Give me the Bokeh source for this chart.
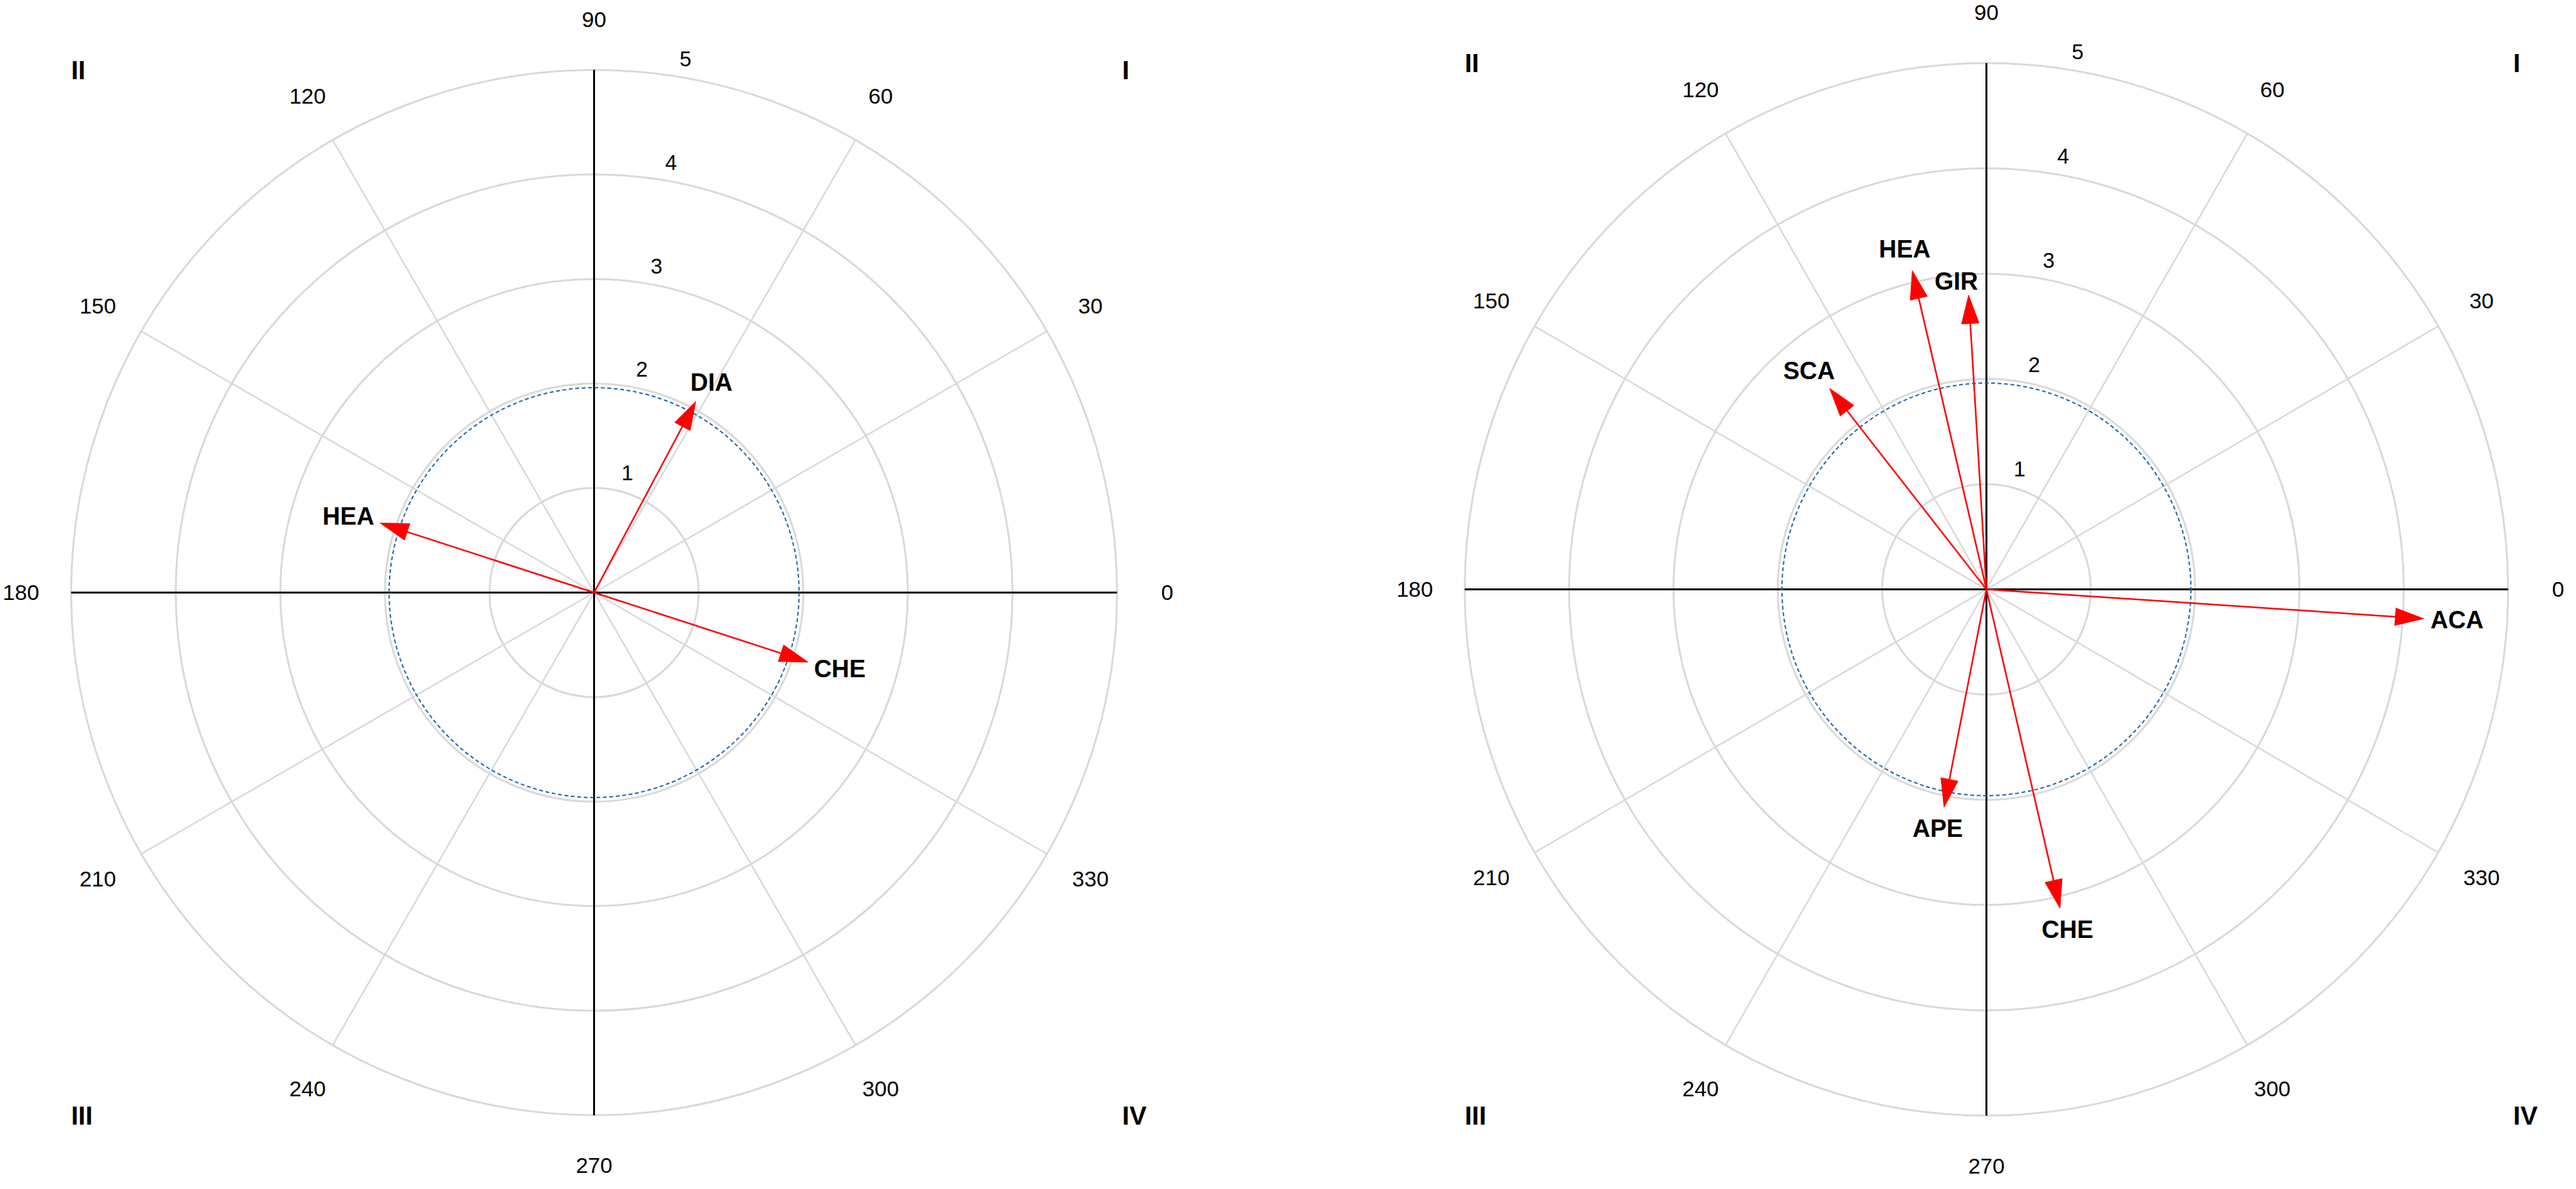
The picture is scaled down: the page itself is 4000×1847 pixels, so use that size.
import math
from bokeh.plotting import figure
from bokeh.models import Range1d, ColumnDataSource
from bokeh.layouts import row
from bokeh.core.properties import value
from bokeh.embed import file_html
from bokeh.resources import INLINE

# ---------------- data ----------------
left_names = ["DIA", "HEA", "CHE"]
left_magnitude = [2.07, 2.15, 2.15]
left_angle_deg = [62.0, 162.0, 342.0]

right_names = ["ACA", "GIR", "HEA", "SCA", "APE", "CHE"]
right_magnitude = [4.20, 2.80, 3.11, 2.43, 2.11, 3.11]
right_angle_deg = [356.2, 93.5, 103.2, 128.2, 258.9, 283.1]

angle_ticks = [0, 30, 60, 90, 120, 150, 180, 210, 240, 270, 300, 330]
radial_ticks = [1, 2, 3, 4, 5]
quadrant_names = ["I", "II", "III", "IV"]
significance_radius = 1.96

# ---------------- style ----------------
FONT = value("Liberation Sans")
GRID_COLOR = "#d9d9d9"
ARROW_COLOR = "#ff0000"
DASH_COLOR = "#1f63a8"
HEAD_LEN = 44.0   # px
HEAD_W = 27.0     # px
LABEL_GAP = 34.0  # px
LABEL_HSHIFT = 18.0
ANGLE_LABEL_R = 5.48
label_nudge_px = {"right": {"GIR": (-16.0, 12.0)}}


def make_panel(key, names, mags, angs, width, height, cx_px, cy_px, ux, uy):
    p = figure(width=width, height=height,
               x_range=Range1d(-cx_px / ux, (width - cx_px) / ux),
               y_range=Range1d(-(height - cy_px) / uy, cy_px / uy),
               output_backend="svg", toolbar_location=None,
               x_axis_location=None, y_axis_location=None,
               min_border=0, min_border_left=0, min_border_right=0,
               min_border_top=0, min_border_bottom=0)
    p.grid.visible = False
    p.outline_line_color = None
    p.background_fill_color = "white"
    p.border_fill_color = "white"

    rmax = max(radial_ticks)
    # rings
    p.ellipse(x=[0] * len(radial_ticks), y=[0] * len(radial_ticks),
              width=[2 * r for r in radial_ticks], height=[2 * r for r in radial_ticks],
              fill_alpha=0, line_color=GRID_COLOR, line_width=3)
    # spokes
    spokes = [a for a in angle_ticks if a % 90 != 0]
    p.segment(x0=[0] * len(spokes), y0=[0] * len(spokes),
              x1=[rmax * math.cos(math.radians(a)) for a in spokes],
              y1=[rmax * math.sin(math.radians(a)) for a in spokes],
              line_color=GRID_COLOR, line_width=2.5)
    # black axes
    p.segment(x0=[-rmax, 0], y0=[0, -rmax], x1=[rmax, 0], y1=[0, rmax],
              line_color="#000000", line_width=3)
    # significance circle
    p.ellipse(x=[0], y=[0], width=[2 * significance_radius], height=[2 * significance_radius],
              fill_alpha=0, line_color=DASH_COLOR, line_width=2, line_dash="6 4")

    # arrows
    bx, by = [], []
    head_xs, head_ys = [], []
    lx, ly, xo, yo = [], [], [], []
    nudges = label_nudge_px.get(key, {})
    for n, m, a in zip(names, mags, angs):
        t = math.radians(a)
        xt, yt = m * math.cos(t), m * math.sin(t)
        sx, sy = xt * ux, yt * uy
        norm = math.hypot(sx, sy)
        dx, dy = sx / norm, sy / norm  # screen direction, y up
        px, py = -dy, dx
        base_x = xt - HEAD_LEN * dx / ux
        base_y = yt - HEAD_LEN * dy / uy
        c1x = base_x + (HEAD_W / 2) * px / ux
        c1y = base_y + (HEAD_W / 2) * py / uy
        c2x = base_x - (HEAD_W / 2) * px / ux
        c2y = base_y - (HEAD_W / 2) * py / uy
        head_xs.append([xt, c1x, c2x])
        head_ys.append([yt, c1y, c2y])
        bx.append(base_x + 2 * dx / ux)
        by.append(base_y + 2 * dy / uy)
        nx, ny = nudges.get(n, (0.0, 0.0))
        lx.append(xt)
        ly.append(yt)
        xo.append(LABEL_GAP * dx + LABEL_HSHIFT * dx + nx)
        yo.append(-LABEL_GAP * dy + ny)
    p.segment(x0=[0] * len(names), y0=[0] * len(names), x1=bx, y1=by,
              line_color=ARROW_COLOR, line_width=2.5)
    p.patches(xs=head_xs, ys=head_ys, fill_color=ARROW_COLOR, line_color=ARROW_COLOR, line_width=1)

    src = ColumnDataSource(dict(x=lx, y=ly, text=names, xo=xo, yo=yo))
    p.text(x="x", y="y", text="text", x_offset="xo", y_offset="yo", source=src,
           text_font=FONT, text_font_style="bold", text_font_size="38px",
           text_align="center", text_baseline="middle", text_color="black")

    # angle labels
    p.text(x=[ANGLE_LABEL_R * math.cos(math.radians(a)) for a in angle_ticks],
           y=[ANGLE_LABEL_R * math.sin(math.radians(a)) for a in angle_ticks],
           text=[str(a) for a in angle_ticks],
           text_font=FONT, text_font_size="34px", text_align="center",
           text_baseline="middle", text_color="black")

    # radial tick labels
    ra = math.radians(82)
    p.text(x=[r * math.cos(ra) for r in radial_ticks],
           y=[r * math.sin(ra) for r in radial_ticks],
           text=[str(r) for r in radial_ticks],
           x_offset=29, y_offset=-25,
           text_font=FONT, text_font_size="33px", text_align="center",
           text_baseline="middle", text_color="black")

    # quadrant labels
    qx = [5.05, -5.0, -5.0, 5.05]
    qy = [5.0, 5.0, -5.0, -5.0]
    p.text(x=qx, y=qy, text=quadrant_names,
           text_font=FONT, text_font_style="bold", text_font_size="40px",
           text_align="left", text_baseline="middle", text_color="black")
    return p


p_left = make_panel("left", left_names, left_magnitude, left_angle_deg,
                    2000, 1831, 922, 920, 162.4, 162.4)
p_right = make_panel("right", right_names, right_magnitude, right_angle_deg,
                     1984, 1831, 1084, 915, 162.0, 163.5)

layout = row(p_left, p_right)
open("out.html", "w").write(file_html(layout, INLINE))
